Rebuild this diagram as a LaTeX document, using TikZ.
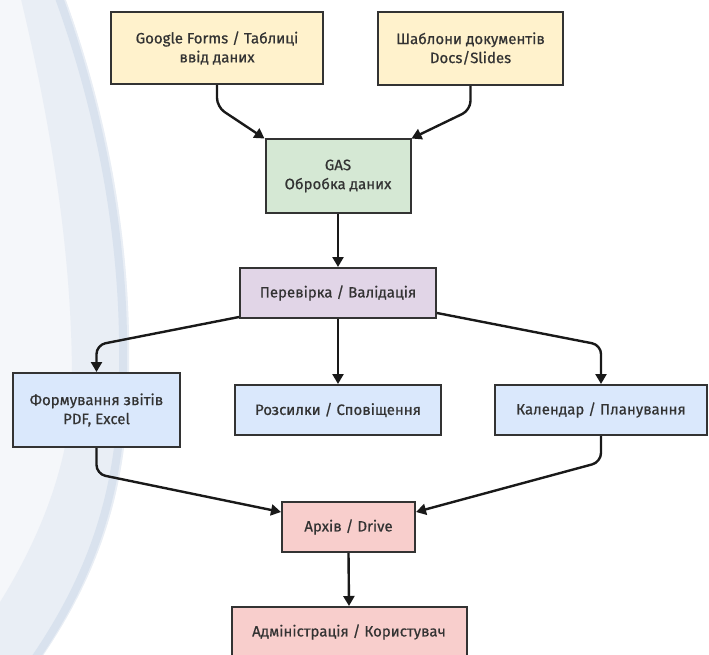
\documentclass[tikz,border=0pt]{standalone}
\usepackage{fontspec}
\setmainfont{Fira Sans}
\newfontfamily\boxfont{Fira Sans}[FakeBold=0.6]
\usetikzlibrary{arrows.meta}
\definecolor{txt}{HTML}{333333}
\definecolor{edge}{HTML}{333333}
\definecolor{cyel}{HTML}{FFF2CC}
\definecolor{cgrn}{HTML}{D5E8D4}
\definecolor{cpur}{HTML}{E1D5E7}
\definecolor{cblu}{HTML}{DAE8FC}
\definecolor{cred}{HTML}{F8CECC}
\definecolor{bgA}{HTML}{F5F7FA}
\definecolor{bgB}{HTML}{E9EEF5}
\definecolor{bgC}{HTML}{D9E2EE}
\tikzset{
  box/.style={draw=edge, line width=2pt, minimum width=#1, inner sep=0pt,
    align=center, text=txt, font=\boxfont\fontsize{15}{19}\selectfont},
  conn/.style={draw=black!90, line width=2.4pt, rounded corners=9pt,
    -{Triangle[length=10pt,width=11pt]}},
}
\begin{document}
\begin{tikzpicture}[x=1pt,y=-1pt]
\useasboundingbox (0,0) rectangle (709,655);
\begin{scope}
\clip (0,0) rectangle (709,655);
% background decoration
\fill[bgA] (-5,-5) -- (64,-5) .. controls (110,120) and (135,260) .. (128,400)
  .. controls (124,500) and (95,580) .. (40,660) -- (-5,660) -- cycle;
\fill[bgB] (20,-5) -- (64,-5) .. controls (110,120) and (135,260) .. (128,400)
  .. controls (124,500) and (95,580) .. (40,660) -- (-5,660) -- (-5,610)
  .. controls (40,540) and (72,460) .. (72,380)
  .. controls (72,250) and (50,120) .. (20,-5) -- cycle;
\draw[bgC, line width=8pt] (58,-5) .. controls (104,120) and (129,260) .. (122,400)
  .. controls (118,500) and (89,580) .. (34,660);
% nodes
\node[box=212pt, minimum height=72pt, fill=cyel] (gf) at (217,48) {Google Forms / Таблиці\\ввід даних};
\node[box=185pt, minimum height=73pt, fill=cyel] (sh) at (470.5,48.5) {Шаблони документів\\Docs/Slides};
\node[box=145pt, minimum height=73pt, fill=cgrn] (gas) at (338,176) {GAS\\Обробка даних};
\node[box=196pt, minimum height=50pt, fill=cpur] (per) at (338,293) {Перевірка / Валідація};
\node[box=167pt, minimum height=74pt, fill=cblu] (form) at (96.5,410) {Формування звітів\\PDF, Excel};
\node[box=206pt, minimum height=50pt, fill=cblu] (roz) at (338,410) {Розсилки / Сповіщення};
\node[box=212pt, minimum height=50pt, fill=cblu] (kal) at (601,410) {Календар / Планування};
\node[box=133pt, minimum height=50pt, fill=cred] (arch) at (348.5,527) {Архів / Drive};
\node[box=235pt, minimum height=50pt, fill=cred] (adm) at (349,632) {Адміністрація / Користувач};
% connectors
\draw[conn] (gf.south) -- ++(0,22) -- (gas.north west);
\draw[conn] (sh.south) -- ++(0,24) -- (gas.north east);
\draw[conn] (gas.south) -- (per.north);
\draw[conn] ([yshift=2pt]per.south west) -- (form.north |- 0,345) -- (form.north);
\draw[conn] (per.south) -- (roz.north);
\draw[conn] ([yshift=6pt]per.south east) -- (kal.north |- 0,345) -- (kal.north);
\draw[conn] (form.south) -- ++(0,26) -- ([yshift=15pt]arch.west);
\draw[conn] (kal.south) -- ++(0,26) -- ([yshift=15pt]arch.east);
\draw[conn] (arch.south) -- (adm.north);
\end{scope}
\end{tikzpicture}
\end{document}
